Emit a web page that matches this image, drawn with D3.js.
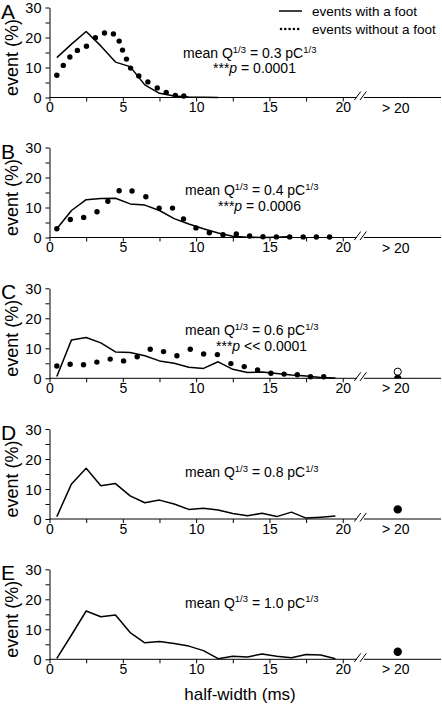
<!DOCTYPE html>
<html>
<head>
<meta charset="utf-8">
<script src="https://cdn.jsdelivr.net/npm/d3@7"></script>
<style>
  html, body { margin: 0; padding: 0; background: #fff; }
  svg { display: block; }
  text { font-family: "Liberation Sans", Arial, Helvetica, sans-serif; fill: #000; }
</style>
</head>
<body>
<div id="chart"></div>
<script>
// ---------------- DATA ----------------
const panelLetters = ["A", "B", "C", "D", "E"];
const meanQ = ["0.3", "0.4", "0.6", "0.8", "1.0"];
const pTexts = ["= 0.0001", "= 0.0006", "<< 0.0001", null, null];

// bin centres (ms) for the "events with a foot" histograms
const binCentres = [0.5, 1.5, 2.5, 3.5, 4.5, 5.5, 6.5, 7.5, 8.5, 9.5, 10.5, 11.5, 12.5, 13.5, 14.5, 15.5, 16.5, 17.5, 18.5, 19.5];

// events with a foot (%), solid line
const withFootA = [13.3, 17.8, 22.0, 17.2, 11.8, 10.3, 4.2, 1.4, 0.5, 0.2, 0.05, 0];
const withFootB = [2.9, 9.0, 12.6, 13.0, 13.1, 11.2, 10.8, 9.0, 6.3, 4.5, 2.9, 1.5, 0.4, 0.1, 0.0, 0.1, 0.3];
const withFootC = [0.6, 12.8, 13.6, 11.8, 8.8, 8.6, 7.5, 5.8, 5.0, 3.7, 3.3, 5.5, 3.0, 1.9, 2.1, 1.6, 1.1, 0.8, 0.3, 0.1];
const withFootD = [0.8, 11.7, 16.9, 11.1, 11.8, 7.7, 5.4, 6.3, 5.0, 3.2, 3.6, 3.0, 1.8, 1.1, 1.9, 0.8, 2.3, 0.3, 0.6, 1.0];
const withFootE = [0.3, 8.1, 16.1, 14.2, 14.8, 8.9, 5.5, 5.9, 5.3, 4.4, 2.9, 0.2, 1.0, 0.8, 1.8, 1.0, 0.5, 1.6, 1.4, 0.2];

// events without a foot (%), dotted series: [half-width, %]
const withoutFootA = [[0.5,7.4],[0.94,10.7],[1.39,13.5],[1.9,15.7],[2.52,17.1],[3.13,19.9],[3.75,21.5],[4.36,21.2],[4.75,18.8],[4.98,15.8],[5.25,12.8],[5.53,9.8],[6.09,7.2],[6.71,5.2],[7.35,3.2],[7.96,1.7],[8.58,0.7],[9.16,0.5]];
const withoutFootB = [[0.5,2.9],[1.42,6.0],[2.33,6.7],[3.24,8.6],[3.98,12.1],[4.75,15.6],[5.63,15.5],[6.57,13.6],[7.48,9.8],[8.39,9.8],[9.14,6.2],[9.99,3.2],[10.9,1.6],[11.83,0.9],[12.74,1.2],[13.65,0.5],[14.56,0.25],[15.47,0.2],[16.38,0.2],[17.3,0.2],[18.2,0.15],[19.1,0.15]];
const withoutFootC = [[0.5,4.1],[1.41,4.7],[2.32,4.5],[3.23,5.4],[4.14,6.4],[5.05,5.8],[5.98,7.2],[6.87,9.7],[7.78,8.9],[8.69,7.5],[9.6,9.7],[10.51,8.1],[11.45,7.9],[12.37,4.9],[13.28,3.9],[14.19,2.8],[15.1,1.7],[16.0,1.4],[16.9,1.2],[17.8,0.5],[18.7,0.5]];

// "> 20 ms" category values (%)
const over20WithFoot = [null, null, 0, 3.2, 2.5];
const over20WithoutFoot = [null, null, 2.2, null, null];

// axis ticks
const yTicks = [0, 5, 10, 15, 20, 25, 30];
const yTickLabels = [0, 10, 20, 30];
const xTicks = [0, 2.5, 5, 7.5, 10, 12.5, 15, 17.5, 20];
const xTickLabels = [0, 5, 10, 15, 20];
const over20Label = "> 20";
const over20Pos = 23.75;
const breakPos = 21.2;
const xMax = 26.7;

const withFootSeries = [withFootA, withFootB, withFootC, withFootD, withFootE];
const withoutFootSeries = [withoutFootA, withoutFootB, withoutFootC, null, null];

// ---------------- LAYOUT ----------------
const W = 442, H = 709;
const panelTops = [7.5, 147.5, 288.3, 429, 569.3];
const panelH = 90;
const annot = [
  {x1: 183, y1: 50.5, x2: 213, y2: 65},
  {x1: 185, y1: 47.5, x2: 218, y2: 63},
  {x1: 185, y1: 47, x2: 216, y2: 62.5},
  {x1: 185, y1: 48},
  {x1: 185, y1: 38.5}
];

const svg = d3.select("#chart").append("svg")
  .attr("width", W).attr("height", H);

const x = d3.scaleLinear().domain([0, xMax]).range([49.5, 441]);

const line = d3.line().x(d => x(d[0]));

panelTops.forEach((top, i) => {
  const g = svg.append("g");
  const y = d3.scaleLinear().domain([0, 30]).range([top + panelH, top]);
  line.y(d => y(d[1]));

  // clip to above the x axis
  const clipId = "clip" + i;
  svg.append("clipPath").attr("id", clipId)
    .append("rect").attr("x", 0).attr("y", top - 20).attr("width", W).attr("height", panelH + 20);

  // y axis
  const yAxis = d3.axisLeft(y).tickValues(yTicks).tickSize(4).tickPadding(4).tickSizeOuter(0)
    .tickFormat(d => yTickLabels.includes(d) ? d : "");
  const yg = g.append("g").attr("transform", `translate(${x(0)},0)`).call(yAxis);
  yg.selectAll("text").style("font-size", "14.5px").attr("dy", "0.36em");
  yg.select(".domain").attr("stroke-width", 1);

  // x axis ticks & labels
  const xAxis = d3.axisBottom(x).tickValues(xTicks).tickSize(4).tickPadding(1).tickSizeOuter(0)
    .tickFormat(d => xTickLabels.includes(d) ? d : "");
  const xg = g.append("g").attr("transform", `translate(0,${y(0)})`).call(xAxis);
  xg.select(".domain").remove();
  xg.selectAll("text").style("font-size", "14px");

  // x axis line with break
  const y0 = y(0);
  const bx = x(breakPos);
  g.append("line").attr("x1", x(0)).attr("x2", bx - 3.5).attr("y1", y0).attr("y2", y0).attr("stroke", "#000");
  g.append("line").attr("x1", bx + 3.5).attr("x2", x(xMax)).attr("y1", y0).attr("y2", y0).attr("stroke", "#000");
  [-2.8, 2.8].forEach(off => {
    g.append("line")
      .attr("x1", bx + off - 3.2).attr("y1", y0 + 2.6)
      .attr("x2", bx + off + 3.2).attr("y2", y0 - 6)
      .attr("stroke", "#000").attr("stroke-width", 1);
  });

  // > 20 label
  g.append("text").attr("x", x(over20Pos) - 2).attr("y", y0 + 15)
    .attr("text-anchor", "middle").style("font-size", "14px").text(over20Label);

  // y label
  g.append("text")
    .attr("transform", `translate(18,${top + 50}) rotate(-90)`)
    .attr("text-anchor", "middle").style("font-size", "18px").text("event (%)");

  // panel letter
  g.append("text").attr("x", 1).attr("y", top + 11)
    .style("font-size", "21px").text(panelLetters[i]);

  // solid line: events with a foot
  const wf = withFootSeries[i].map((v, k) => [binCentres[k], v]);
  g.append("path").datum(wf)
    .attr("d", line).attr("fill", "none").attr("stroke", "#000")
    .attr("stroke-width", 1.5).attr("stroke-linejoin", "round");

  // dotted series: events without a foot
  if (withoutFootSeries[i]) {
    g.selectAll("circle.nf").data(withoutFootSeries[i]).enter().append("circle")
      .attr("class", "nf")
      .attr("cx", d => x(d[0])).attr("cy", d => y(d[1])).attr("r", 2.7).attr("fill", "#000");
  }

  // > 20 category
  if (over20WithoutFoot[i] != null) {
    g.append("circle").attr("cx", x(over20Pos)).attr("cy", y(over20WithoutFoot[i]))
      .attr("r", 3.6).attr("fill", "#fff").attr("stroke", "#000").attr("stroke-width", 1);
  }
  if (over20WithFoot[i] != null) {
    g.append("circle").attr("cx", x(over20Pos)).attr("cy", y(over20WithFoot[i]))
      .attr("r", over20WithFoot[i] === 0 ? 3.6 : 4.2).attr("fill", "#000")
      .attr("clip-path", `url(#${clipId})`);
  }

  // annotation
  const a = annot[i];
  const t1 = g.append("text").attr("x", a.x1).attr("y", top + a.y1).style("font-size", "14px");
  t1.append("tspan").text("mean Q");
  t1.append("tspan").attr("dy", -5.5).style("font-size", "9.5px").text("1/3");
  t1.append("tspan").attr("dy", 5.5).text(" = " + meanQ[i] + " pC");
  t1.append("tspan").attr("dy", -5.5).style("font-size", "9.5px").text("1/3");
  if (pTexts[i]) {
    const t2 = g.append("text").attr("x", a.x2).attr("y", top + a.y2).style("font-size", "14px");
    t2.append("tspan").text("***");
    t2.append("tspan").style("font-style", "italic").text("p");
    t2.append("tspan").text(" " + pTexts[i]);
  }
});

// legend (panel A)
const lg = svg.append("g");
lg.append("line").attr("x1", 279).attr("x2", 302).attr("y1", 11).attr("y2", 11)
  .attr("stroke", "#000").attr("stroke-width", 1.5);
lg.append("text").attr("x", 312).attr("y", 16).style("font-size", "13.5px").text("events with a foot");
lg.append("line").attr("x1", 281).attr("x2", 302).attr("y1", 29).attr("y2", 29)
  .attr("stroke", "#000").attr("stroke-width", 2.6).attr("stroke-linecap", "round")
  .attr("stroke-dasharray", "0,4.3");
lg.append("text").attr("x", 312).attr("y", 33.5).style("font-size", "13.5px").text("events without a foot");

// x label
svg.append("text").attr("x", 240).attr("y", 700).attr("text-anchor", "middle")
  .style("font-size", "17px").text("half-width (ms)");
</script>
</body>
</html>
